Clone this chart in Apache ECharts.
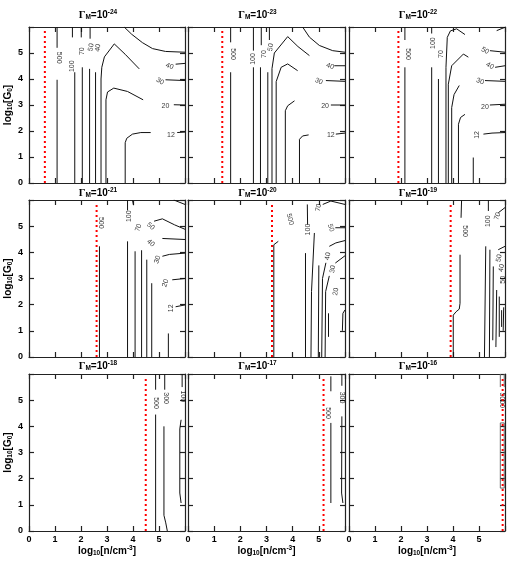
<!DOCTYPE html>
<html><head><meta charset="utf-8">
<script src="https://cdn.jsdelivr.net/npm/echarts@6/dist/echarts.min.js"></script>
<style>html,body{margin:0;padding:0;background:#fff}#c{width:513px;height:561px}</style>
</head><body><div id="c"></div><script>
// ---------- data ----------
const exponents = [-24,-23,-22,-21,-20,-19,-18,-17,-16];
const redLineX = [0.61,1.31,1.90,2.60,3.21,3.91,4.49,5.18,5.91];
const redLineTop = 5.85;
const xTickLabels = [0,1,2,3,4,5];
const yTickLabels = [0,1,2,3,4,5];

const contours1 = [
 [[1.08,0],[1.08,3.97]], [[1.08,5.2],[1.08,6]],
 [[1.76,0],[1.76,4.26]], [[1.67,5.6],[1.67,6]],
 [[2.05,0],[2.05,4.45]], [[2.01,5.6],[2.01,6]],
 [[2.33,0],[2.33,4.39]], [[2.35,5.55],[2.35,6]],
 [[2.56,0],[2.56,4.26]],
 [[2.77,0],[2.77,4.0],[2.80,4.45],[2.90,4.85],[3.28,5.35],[3.7,4.95],[4.24,4.39]],
 [[2.96,0],[2.96,3.2],[3.02,3.5],[3.26,3.65],[3.79,3.52],[4.39,3.20]],
 [[3.70,0],[3.70,1.55],[3.76,1.72],[3.98,1.88],[4.3,1.94],[4.68,1.94]],
 [[3.66,6],[3.95,5.72],[4.36,5.4],[4.75,5.17],[5.25,5.06],[6,5.03]],
 [[5.64,4.57],[6,4.60]], [[5.25,3.97],[6,3.94]], [[5.57,3.01],[6,3.0]], [[5.70,1.94],[6,1.96]]
];
const labels1 = [[1.15,4.82,'500',-90],[1.67,4.49,'100',90],[2.05,5.07,'70',90],[2.39,5.22,'50',80],[2.65,5.2,'40',80],[5.41,4.49,'40',-20],[5.04,3.91,'30',-30],[5.25,2.96,'20',0],[5.46,1.85,'12',0]];

const contours2 = [
 [[1.63,0],[1.63,4.26]], [[1.63,5.41],[1.63,6]],
 [[2.50,0],[2.50,4.45]], [[2.50,5.09],[2.50,6]],
 [[2.77,0],[2.77,4.45]], [[2.80,5.3],[2.80,6]],
 [[3.05,0],[3.05,4.26]], [[3.11,5.5],[3.11,6]],
 [[3.21,0],[3.21,4.4],[3.30,5.0],[3.81,5.63],[4.2,5.25],[4.64,4.9]],
 [[3.37,0],[3.37,3.9],[3.56,4.45],[3.81,4.58],[4.19,4.32]],
 [[3.72,0],[3.72,2.78],[3.81,2.97],[4.07,3.16]],
 [[4.26,0],[4.26,1.68],[4.38,1.81],[4.61,1.85]],
 [[4.38,6],[4.64,5.61],[5.02,5.29],[5.53,5.09],[6,5.03]],
 [[5.59,4.51],[6,4.51]], [[5.27,3.94],[6,3.91]], [[5.46,3.0],[6,3.0]], [[5.65,1.88],[6,1.92]]
];
const labels2 = [[1.72,4.96,'500',-90],[2.50,4.77,'100',90],[2.92,4.96,'70',90],[3.16,5.22,'50',80],[5.43,4.49,'40',-20],[5.0,3.91,'30',-25],[5.24,2.96,'20',0],[5.46,1.85,'12',0]];

const contours3 = [
 [[2.15,0],[2.15,4.45]], [[2.15,5.5],[2.15,6]],
 [[3.18,0],[3.18,4.45]], [[3.18,5.75],[3.18,6]],
 [[3.44,0],[3.44,4.0]],
 [[3.73,0],[3.73,4.45],[3.78,5.6],[3.90,5.85],[4.14,5.93],[4.46,5.71]],
 [[3.82,0],[3.82,3.8],[3.95,4.51],[4.40,4.96],[4.59,4.84]],
 [[3.95,0],[3.95,2.90],[4.04,3.4],[4.24,3.75]],
 [[4.21,0],[4.21,2.26],[4.29,2.52],[4.46,2.64]],
 [[4.78,0],[4.78,0.98]],
 [[5.68,5.86],[6,5.99]],
 [[5.42,5.09],[6,5.03]], [[5.62,4.45],[6,4.51]], [[5.23,3.94],[6,3.91]], [[5.42,3.0],[6,3.03]], [[5.17,1.88],[5.5,1.92],[6,1.94]]
];
const labels3 = [[2.26,4.96,'500',-90],[3.24,5.38,'100',90],[3.53,4.96,'70',90],[5.23,5.09,'50',-30],[5.42,4.51,'40',-30],[5.04,3.91,'30',-20],[5.23,2.93,'20',0],[4.91,1.85,'12',90]];

const contours4 = [
 [[2.71,0],[2.71,4.23]],
 [[3.79,0],[3.79,4.42]], [[3.79,5.6],[3.79,6]], [[3.98,6],[4.02,5.8]],
 [[4.08,0],[4.08,4.04]],
 [[4.33,0],[4.33,4.08]],
 [[4.53,0],[4.53,3.72]],
 [[4.72,0],[4.72,2.82]],
 [[5.36,0],[5.36,0.9]],
 [[4.81,5.19],[5.13,5.28],[5.6,5.05],[6,4.88]],
 [[5.13,4.53],[6,4.49]],
 [[5.13,3.85],[5.4,3.92],[6,3.97]],
 [[5.51,2.95],[6,3.0]],
 [[5.64,1.92],[6,1.99]],
 [[5.57,6],[6,5.83]]
];
const labels4 = [[2.77,5.13,'500',-90],[3.85,5.38,'100',90],[4.21,4.94,'70',70],[4.68,5.0,'50',-40],[4.68,4.36,'40',-40],[4.94,3.72,'30',70],[5.25,2.82,'20',70],[5.45,1.86,'12',90]];

const contours5 = [
 [[3.28,0],[3.28,4.29],[3.45,4.42]],
 [[4.49,0],[4.49,3.97]],
 [[4.56,5.83],[4.57,5.06]],
 [[4.70,0],[4.72,2.5],[4.83,4.74]],
 [[4.98,0],[5.0,3.5]],
 [[5.11,0],[5.14,3.0],[5.27,3.6]],
 [[5.24,0],[5.26,2.5],[5.40,3.1]],
 [[5.37,0.77],[5.37,1.67]],
 [[5.9,1.0],[5.92,1.67],[6,1.8]],
 [[5.15,5.83],[5.46,5.96],[6,5.83]],
 [[5.63,4.94],[6,4.94]],
 [[5.40,4.23],[5.65,4.36],[6,4.45]],
 [[5.63,3.59],[6,3.87]]
];
const labels5 = [[3.90,5.26,'500',-75],[4.60,4.87,'100',90],[4.99,5.71,'70',80],[5.46,4.94,'50',-70],[5.34,3.85,'40',80],[5.53,3.36,'30',80],[5.65,2.5,'20',80]];

const contours6 = [
 [[4.01,0],[4.01,1.6],[4.12,1.73],[4.24,1.83],[4.27,2.05],[4.27,3.91]],
 [[4.33,6],[4.31,5.32]],
 [[5.21,0],[5.26,4.23]],
 [[5.36,6],[5.36,5.58]],
 [[5.40,0],[5.42,4.1]],
 [[5.53,0.64],[5.55,3.46]],
 [[5.65,0.38],[5.68,2.56]],
 [[5.78,0.77],[5.78,2.31]],
 [[5.87,1.15],[5.87,1.79]],
 [[5.93,1.0],[5.95,1.9]],
 [[5.74,5.51],[6,5.71]],
 [[5.74,4.1],[6,4.23]]
];
const labels6 = [[4.44,4.81,'500',-90],[5.36,5.19,'100',90],[5.71,5.38,'70',70],[5.77,3.78,'50',80],[5.87,3.4,'40',80],[5.91,2.95,'50',90]];

const contours7 = [
 [[4.87,0],[4.87,4.45]], [[4.87,5.4],[4.87,6]],
 [[5.32,0],[5.26,0.31],[5.19,0.6],[5.19,4.0]], [[5.22,5.4],[5.22,6]],
 [[5.85,1.07],[5.80,1.45],[5.80,3.9],[5.85,4.25]], [[5.89,5.5],[5.89,6]]
];
const labels7 = [[4.90,4.89,'500',-90],[5.25,5.08,'300',-90],[5.93,5.15,'100',-90]];

const contours8 = [
 [[5.46,5.34],[5.46,5.91]], [[5.46,1.07],[5.46,4.13]],
 [[5.88,5.55],[5.88,6]], [[5.92,1.07],[5.87,1.45],[5.88,4.38]]
];
const labels8 = [[5.36,4.51,'500',-90],[5.88,5.1,'300',-90]];

const contours9 = [
 [[5.82,5.5],[5.82,6]], [[5.82,1.64],[5.82,4.13]], [[5.97,1.64],[5.97,4.13]],
 [[5.97,5.5],[5.97,6]], [[5.82,4.13],[5.97,4.13]], [[5.82,1.64],[5.97,1.64]]
];
const labels9 = [[5.89,5.0,'5000',-90]];

const panelContours = [contours1,contours2,contours3,contours4,contours5,contours6,contours7,contours8,contours9];
const panelLabels = [labels1,labels2,labels3,labels4,labels5,labels6,labels7,labels8,labels9];

// ---------- layout ----------
const colLeft = [29, 188, 349], colWidth = [156, 157, 156];
const rowTop = [27, 200, 374], rowHeight = [156, 157, 157];
const titleTop = [9, 187, 360];
const FONT = 'Liberation Sans, Arial, sans-serif';

const grids = [], xAxes = [], yAxes = [], series = [], titles = [];
const frame = {color:'#222', width:1.2};
for (let i = 0; i < 9; i++) {
  const r = Math.floor(i/3), c = i%3;
  grids.push({left: colLeft[c], top: rowTop[r], width: colWidth[c], height: rowHeight[r], containLabel:false, outerBoundsMode:'none'});
  const baseX = {gridIndex:i, type:'value', min:0, max:6, interval:1, splitLine:{show:false},
    axisLine:{show:true, onZero:false, lineStyle:frame}, axisTick:{show:true, inside:true, length:5, lineStyle:frame}};
  xAxes.push(Object.assign({}, baseX, {position:'bottom',
    axisLabel:{show: r===2, customValues: xTickLabels, fontSize:9, fontWeight:'bold', color:'#000', fontFamily:FONT, margin:4},
    name: r===2 ? '{b|log}{s|10}{b|[n/cm}{u|-3}{b|]}' : '', nameLocation:'middle', nameGap:11,
    nameTextStyle:{rich:{
      b:{fontSize:10, fontWeight:'bold', fontFamily:FONT, color:'#000', lineHeight:12},
      s:{fontSize:6.5, fontWeight:'bold', fontFamily:FONT, color:'#000', verticalAlign:'bottom', lineHeight:7},
      u:{fontSize:6.5, fontWeight:'bold', fontFamily:FONT, color:'#000', verticalAlign:'top', lineHeight:7}}}}));
  xAxes.push(Object.assign({}, baseX, {position:'top', axisLabel:{show:false}}));
  const baseY = {gridIndex:i, type:'value', min:0, max:6, interval:1, splitLine:{show:false},
    axisLine:{show:true, onZero:false, lineStyle:frame}, axisTick:{show:true, inside:true, length:5, lineStyle:frame}};
  yAxes.push(Object.assign({}, baseY, {position:'left',
    axisLabel:{show: c===0, customValues: yTickLabels, fontSize:9, fontWeight:'bold', color:'#000', fontFamily:FONT, margin:6},
    name: c===0 ? '{b|log}{s|10}{b|[G}{s|0}{b|]}' : '', nameLocation:'middle', nameGap:14, nameRotate:90,
    nameTextStyle:{rich:{
      b:{fontSize:10, fontWeight:'bold', fontFamily:FONT, color:'#000', lineHeight:12},
      s:{fontSize:6.5, fontWeight:'bold', fontFamily:FONT, color:'#000', verticalAlign:'bottom', lineHeight:7}}}}));
  yAxes.push(Object.assign({}, baseY, {position:'right', axisLabel:{show:false}}));

  titles.push({text:'{g|Γ}{m|M}{t|=10}{e|' + exponents[i] + '}', left: colLeft[c] + colWidth[c]/2 - 9, top: titleTop[r],
    textAlign:'center', padding:0,
    textStyle:{rich:{
      g:{fontSize:10.5, fontFamily:'Liberation Serif, Times New Roman, serif', color:'#000', lineHeight:12},
      m:{fontSize:6.5, fontWeight:'bold', fontFamily:FONT, color:'#000', verticalAlign:'bottom', lineHeight:7},
      t:{fontSize:10, fontWeight:'bold', fontFamily:FONT, color:'#000', lineHeight:12},
      e:{fontSize:6.5, fontWeight:'bold', fontFamily:FONT, color:'#000', verticalAlign:'top', lineHeight:7}}}});

  const xi = 2*i, yi = 2*i;
  const lineColor = i === 8 ? '#666' : '#111';
  panelContours[i].forEach(seg => series.push({type:'line', xAxisIndex:xi, yAxisIndex:yi, data:seg, symbol:'none',
    silent:true, animation:false, lineStyle:{color:lineColor, width:1}, z:2}));
  series.push({type:'scatter', xAxisIndex:xi, yAxisIndex:yi, symbolSize:1, silent:true, animation:false,
    itemStyle:{color:'rgba(0,0,0,0)'}, z:3,
    label:{show:true, position:'inside', fontSize:7, fontFamily:FONT, color:'#000'},
    data: panelLabels[i].map(l => ({value:[l[0], l[1]], label:{formatter:l[2], rotate:l[3]}}))});
  series.push({type:'line', xAxisIndex:xi, yAxisIndex:yi, data:[[redLineX[i],0],[redLineX[i],redLineTop]], symbol:'none',
    silent:true, animation:false, lineStyle:{color:'#ff0000', width:2, type:[2,3]}, z:4});
}

const chart = echarts.init(document.getElementById('c'), null, {renderer:'canvas'});
chart.setOption({animation:false, backgroundColor:'#fff', title:titles, grid:grids, xAxis:xAxes, yAxis:yAxes, series:series});
</script></body></html>
